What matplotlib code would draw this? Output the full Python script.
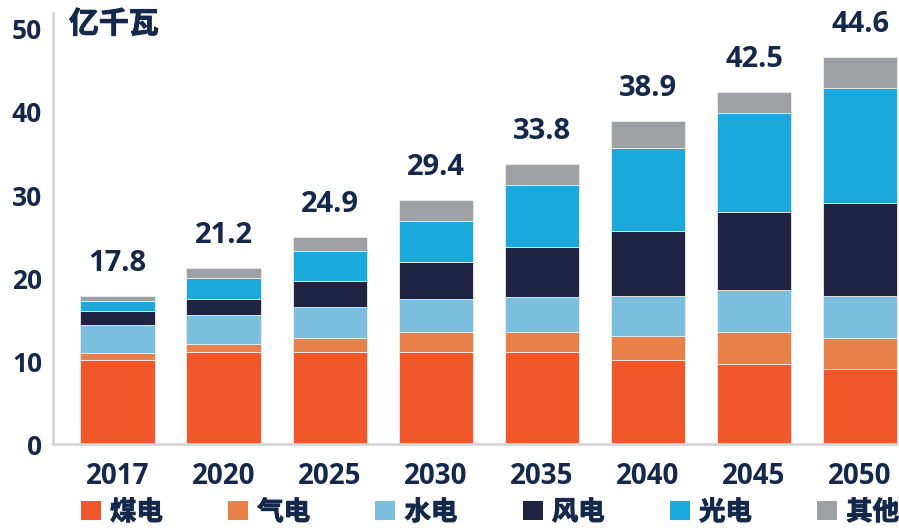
import matplotlib
matplotlib.use("Agg")
import matplotlib.pyplot as plt
import matplotlib.patheffects as pe
from matplotlib.patches import Patch

plt.rcParams["font.family"] = ["Open Sans", "Noto Sans CJK SC", "DejaVu Sans"]
plt.rcParams["font.weight"] = "bold"

years = ["2017", "2020", "2025", "2030", "2035", "2040", "2045", "2050"]
totals = ["17.8", "21.2", "24.9", "29.4", "33.8", "38.9", "42.5", "44.6"]

coal = [10.1, 11.1, 11.1, 11.1, 11.1, 10.1, 9.6, 9.1]
gas = [0.9, 0.9, 1.7, 2.4, 2.4, 2.9, 3.9, 3.7]
hydro = [3.3, 3.5, 3.7, 4.0, 4.2, 4.8, 5.0, 5.0]
wind = [1.7, 2.0, 3.2, 4.4, 6.0, 7.9, 9.5, 11.2]
solar = [1.25, 2.5, 3.5, 5.0, 7.5, 10.0, 11.9, 13.9]
other = [0.55, 1.2, 1.7, 2.5, 2.5, 3.2, 2.5, 3.7]

names = ["煤电", "气电", "水电", "风电", "光电", "其他"]
colors = ["#F0572A", "#E8804A", "#7BBEDD", "#1F2344", "#1BA8DA", "#9FA0A4"]
navy = "#14284B"
# the CJK face has no real bold here, so thicken it a little with a stroke
bold_fx = [pe.withStroke(linewidth=0.7, foreground=navy)]

fig = plt.figure(figsize=(8.99, 5.28), dpi=100)
ax = fig.add_axes([0.0593, 0.159, 0.9407, 0.816])

x = range(len(years))
bottom = [0.0] * len(years)
for vals, col in zip([coal, gas, hydro, wind, solar, other], colors):
    ax.bar(x, vals, width=0.7, bottom=bottom, color=col,
           edgecolor="#eeeeee", linewidth=0.6)
    bottom = [b + v for b, v in zip(bottom, vals)]

for i, (top, lab) in enumerate(zip(bottom, totals)):
    ax.annotate(lab, (i, top), xytext=(0, 13), textcoords="offset points",
                ha="center", va="bottom", fontsize=21, color=navy,
                fontweight="bold")

ax.set_xlim(-0.605, 7.366)
ax.set_ylim(0, 51.9)
ax.set_yticks([0, 10, 20, 30, 40, 50])
ax.set_xticks(list(x))
ax.set_xticklabels(years)
ax.tick_params(axis="y", length=0, pad=8, labelsize=19, labelcolor=navy)
ax.tick_params(axis="x", length=0, pad=13, labelsize=20, labelcolor=navy)

for side in ["top", "right"]:
    ax.spines[side].set_visible(False)
for side in ["left", "bottom"]:
    ax.spines[side].set_color("#d6d6d6")
    ax.spines[side].set_linewidth(2)

fig.text(69 / 899, 1 - 10 / 528, "亿千瓦", ha="left", va="top",
         fontsize=21.5, color=navy, fontweight="bold", path_effects=bold_fx)

handles = [Patch(facecolor=c, edgecolor="none") for c in colors]
leg = fig.legend(handles, names, loc="lower left", ncol=6,
                 bbox_to_anchor=(81 / 899, 0.004, 1 - 81 / 899, 0.048),
                 mode="expand", frameon=False, borderaxespad=0, borderpad=0,
                 handlelength=0.75, handleheight=0.75, handletextpad=0.35,
                 prop={"size": 19, "weight": "bold"})
for t in leg.get_texts():
    t.set_color(navy)
    t.set_path_effects(bold_fx)

fig.savefig("out.png", dpi=100)
